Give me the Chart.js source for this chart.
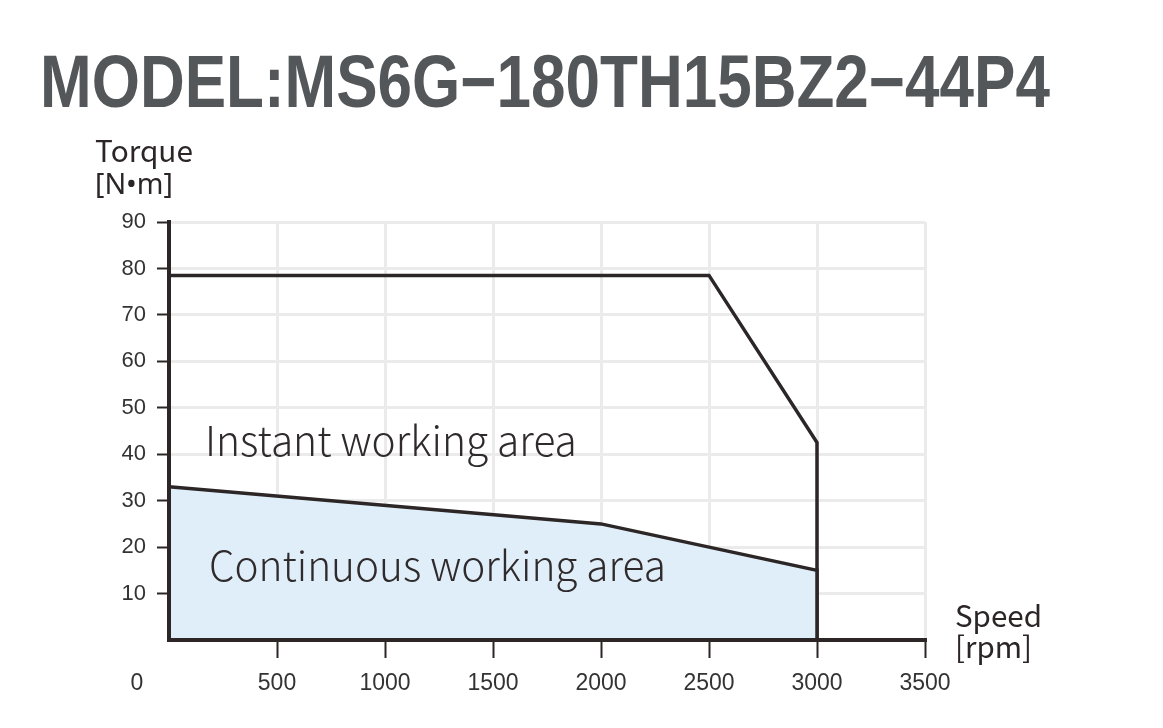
<!DOCTYPE html>
<html>
<head>
<meta charset="utf-8">
<script src="https://cdn.jsdelivr.net/npm/chart.js@4/dist/chart.umd.min.js"></script>
<style>
  html, body { margin: 0; padding: 0; background: #fff; }
  #wrap { width: 1163px; height: 728px; }
</style>
</head>
<body>
<div id="wrap"><canvas id="torqueChart" width="1163" height="728"></canvas></div>
<script>
// Torque / speed curve for MS6G-180TH15BZ2-44P4
const titleText = 'MODEL:MS6G\u2212180TH15BZ2\u221244P4';

const speedTicks = [500, 1000, 1500, 2000, 2500, 3000, 3500];
const torqueTicks = [10, 20, 30, 40, 50, 60, 70, 80, 90];

// instant (peak) torque curve
const instantSpeed = [0, 2500, 3000, 3000];
const instantTorque = [78.5, 78.5, 42.5, 0];

// continuous (rated) torque curve
const contSpeed = [0, 2000, 3000, 3000];
const contTorque = [33, 25, 15, 0];

const INK = '#2c2627';
const GRID = '#ebebeb';
const FILL = '#e0eef9';

const toPoints = (xs, ys) => xs.map((x, i) => ({ x, y: ys[i] }));

// draw text scaled so it spans a given width (optionally stretched vertically)
function fitText(ctx, text, x, y, width, weight, family, guess, stretchY = 1) {
  ctx.font = `${weight} ${guess}px ${family}`;
  const w = ctx.measureText(text).width;
  const size = guess * width / w;
  ctx.font = `${weight} ${size}px ${family}`;
  ctx.save();
  ctx.translate(x, y);
  ctx.scale(1, stretchY);
  ctx.fillText(text, 0, 0);
  ctx.restore();
}

const labelsPlugin = {
  id: 'labels',
  afterDraw(chart) {
    const ctx = chart.ctx;
    const xs = chart.scales.x;
    ctx.save();
    ctx.textBaseline = 'alphabetic';
    ctx.textAlign = 'left';

    // title
    ctx.fillStyle = '#54575a';
    fitText(ctx, titleText, 40, 107, 1010, 'bold', '"Liberation Sans", Arial, sans-serif', 76, 1.2);

    // axis titles
    ctx.fillStyle = '#2b2526';
    const soft = '"Noto Sans CJK SC", "Noto Sans", sans-serif';
    const plain = '"Noto Sans", sans-serif';
    fitText(ctx, 'Torque', 95, 162, 98, 400, soft, 28);
    fitText(ctx, '[N\u2022m]', 95, 194, 78, 400, plain, 28);
    fitText(ctx, 'Speed', 955, 627, 87, 400, soft, 28);
    fitText(ctx, '[rpm]', 955, 658, 77, 400, soft, 28);

    // area labels
    ctx.fillStyle = '#2f2a2b';
    fitText(ctx, 'Instant working area', 205, 456, 372, 300, soft, 40);
    fitText(ctx, 'Continuous working area', 209, 581, 457, 300, soft, 36);

    // origin label sits left of the axis corner
    ctx.fillStyle = '#333';
    ctx.font = '23px "Liberation Sans", Arial, sans-serif';
    ctx.textAlign = 'center';
    ctx.textBaseline = 'middle';
    ctx.fillText('0', xs.getPixelForValue(0) - 32, 684);
    ctx.restore();
  }
};

const ctx = document.getElementById('torqueChart').getContext('2d');
new Chart(ctx, {
  type: 'line',
  data: {
    datasets: [
      {
        label: 'Continuous',
        data: toPoints(contSpeed, contTorque),
        borderColor: INK,
        backgroundColor: FILL,
        borderWidth: 3.5,
        fill: 'origin',
        tension: 0,
        pointRadius: 0,
        borderJoinStyle: 'miter',
        clip: false
      },
      {
        label: 'Instant',
        data: toPoints(instantSpeed, instantTorque),
        borderColor: INK,
        borderWidth: 3.5,
        fill: false,
        tension: 0,
        pointRadius: 0,
        borderJoinStyle: 'miter',
        clip: false
      }
    ]
  },
  options: {
    responsive: false,
    animation: false,
    devicePixelRatio: 1,
    layout: { padding: { left: 109, right: 238, top: 222, bottom: 38 } },
    plugins: {
      legend: { display: false },
      title: { display: false },
      tooltip: { enabled: false }
    },
    scales: {
      x: {
        type: 'linear',
        min: 0,
        max: 3500,
        afterBuildTicks: (s) => { s.ticks = speedTicks.map(v => ({ value: v })); },
        afterFit: (s) => { s.height = 50; },
        ticks: {
          callback: (v) => String(v),
          color: '#333',
          font: { family: '"Liberation Sans", Arial, sans-serif', size: 23 },
          padding: 12,
          maxRotation: 0
        },
        grid: { color: GRID, lineWidth: 3, tickLength: 18, tickColor: INK, tickWidth: 2 },
        border: { color: INK, width: 4, z: 1 }
      },
      y: {
        min: 0,
        max: 90,
        afterBuildTicks: (s) => { s.ticks = torqueTicks.map(v => ({ value: v })); },
        afterFit: (s) => { s.width = 60; },
        ticks: {
          callback: (v) => String(v),
          color: '#333',
          font: { family: '"Liberation Sans", Arial, sans-serif', size: 22 },
          padding: 11
        },
        grid: { color: GRID, lineWidth: 3, tickLength: 12, tickColor: INK, tickWidth: 2 },
        border: { color: INK, width: 4, z: 1 }
      }
    }
  },
  plugins: [labelsPlugin]
});
</script>
</body>
</html>
